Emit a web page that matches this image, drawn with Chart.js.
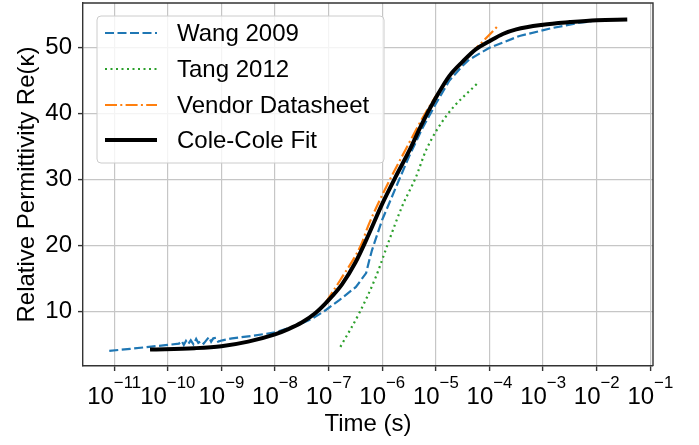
<!DOCTYPE html>
<html>
<head>
<meta charset="utf-8">
<script src="https://cdn.jsdelivr.net/npm/chart.js@4.4.0/dist/chart.umd.min.js"></script>
<style>
html, body { margin: 0; padding: 0; background: #fff; }
canvas { display: block; }
</style>
</head>
<body>
<canvas id="chart" width="699" height="445"></canvas>
<script>
const FONT = '"Liberation Sans", Arial, sans-serif';

// time axis decades (10^n) and permittivity ticks
const xTickExps = [-11, -10, -9, -8, -7, -6, -5, -4, -3, -2, -1];
const yTickValues = [10, 20, 30, 40, 50];

// Wang 2009 (log10 of time, value)
const wangExp = [-11.09, -10.7, -10.35, -10.0, -9.79, -9.74, -9.70, -9.66, -9.62, -9.57, -9.52, -9.47, -9.43,
  -9.38, -9.33, -9.27, -9.23, -9.19, -9.15, -9.10, -9.06, -8.98, -8.8, -8.4, -8.0, -7.6, -7.3, -7.05, -6.8,
  -6.49, -6.3, -6.24, -6.19, -6.0, -5.74, -5.5, -5.25, -5.0, -4.75, -4.5, -4.38, -4.0, -3.44, -2.83, -2.32, -2.1];
const wangVal = [4.0, 4.3, 4.6, 4.9, 5.1, 5.5, 4.9, 5.5, 5.0, 5.6, 5.0, 5.8, 5.2,
  5.5, 5.1, 5.7, 6.1, 5.4, 5.9, 6.0, 5.4, 5.6, 5.9, 6.3, 6.8, 7.8, 8.9, 10.2, 11.7,
  13.7, 15.8, 17.8, 19.3, 23.9, 28.9, 33.5, 37.8, 41.5, 45.0, 47.3, 48.2, 50.0, 51.8, 53.0, 53.8, 54.0];

// Tang 2012
const tangExp = [-6.78, -6.43, -6.12, -5.87, -5.63, -5.37, -5.18, -4.81, -4.19];
const tangVal = [4.6, 9.7, 15.2, 20.8, 25.9, 30.4, 34.5, 39.6, 44.9];

// Vendor datasheet
const vendorExp = [-7.05, -6.77, -6.4, -6.25, -5.93, -5.56, -5.18, -4.69, -4.07, -3.82];
const vendorVal = [11.4, 14.9, 20.0, 23.2, 28.8, 34.6, 40.3, 46.2, 51.4, 53.5];

// Cole-Cole fit
const fitExp = [-10.33, -9.5, -9.0, -8.5, -8.0, -7.75, -7.5, -7.25, -7.0, -6.75, -6.5, -6.25, -6.0, -5.75,
  -5.5, -5.25, -5.0, -4.75, -4.5, -4.25, -4.0, -3.75, -3.5, -3.0, -2.5, -2.0, -1.43];
const fitVal = [4.2, 4.4, 4.7, 5.4, 6.5, 7.3, 8.3, 9.7, 11.7, 14.1, 17.4, 21.7, 26.3, 30.4,
  34.3, 38.6, 42.4, 45.7, 47.9, 49.8, 51.0, 52.1, 52.8, 53.5, 53.9, 54.2, 54.3];

function toPoints(exps, vals) {
  return exps.map((e, i) => ({ x: Math.pow(10, e), y: vals[i] }));
}

const frame = {
  id: 'frame',
  afterDraw(chart) {
    const ctx = chart.ctx;
    const a = chart.chartArea;
    ctx.save();
    // top and right spines
    ctx.strokeStyle = '#333';
    ctx.lineWidth = 1.4;
    ctx.beginPath();
    ctx.moveTo(a.left, a.top);
    ctx.lineTo(a.right, a.top);
    ctx.lineTo(a.right, a.bottom);
    ctx.stroke();

    // x tick labels as 10 with superscript exponent
    const xs = chart.scales.x;
    ctx.fillStyle = '#000';
    ctx.textBaseline = 'alphabetic';
    ctx.textAlign = 'left';
    xs.ticks.forEach(t => {
      const px = xs.getPixelForValue(t.value);
      const exp = '\u2212' + String(-Math.round(Math.log10(t.value)));
      ctx.font = '24px ' + FONT;
      const wBase = ctx.measureText('10').width;
      ctx.font = '16.8px ' + FONT;
      const wExp = ctx.measureText(exp).width;
      const x0 = px - (wBase + wExp) / 2;
      ctx.font = '24px ' + FONT;
      ctx.fillText('10', x0, 404);
      ctx.font = '16.8px ' + FONT;
      ctx.fillText(exp, x0 + wBase, 388);
    });

    // legend
    const bx = 97, by = 16, bw = 287, bh = 147;
    ctx.fillStyle = 'rgba(255,255,255,0.8)';
    ctx.strokeStyle = '#cccccc';
    ctx.lineWidth = 1;
    ctx.beginPath();
    ctx.roundRect(bx, by, bw, bh, 4);
    ctx.fill();
    ctx.stroke();
    const rows = [33, 69, 105, 140];
    chart.data.datasets.forEach((ds, i) => {
      const y = rows[i];
      ctx.strokeStyle = ds.borderColor;
      ctx.lineWidth = ds.borderWidth;
      ctx.setLineDash(ds.borderDash || []);
      ctx.beginPath();
      ctx.moveTo(105, y);
      ctx.lineTo(157, y);
      ctx.stroke();
      ctx.setLineDash([]);
      ctx.fillStyle = '#000';
      ctx.font = '24px ' + FONT;
      ctx.textBaseline = 'middle';
      ctx.fillText(ds.label, 177, y + 1);
    });
    ctx.restore();
  }
};

new Chart(document.getElementById('chart'), {
  type: 'line',
  data: {
    datasets: [
      { label: 'Wang 2009', data: toPoints(wangExp, wangVal), borderColor: '#1f77b4',
        borderWidth: 2.2, borderDash: [9, 3.5], tension: 0, order: 4 },
      { label: 'Tang 2012', data: toPoints(tangExp, tangVal), borderColor: '#2ca02c',
        borderWidth: 2.2, borderDash: [2, 3.5], cubicInterpolationMode: 'monotone', order: 3 },
      { label: 'Vendor Datasheet', data: toPoints(vendorExp, vendorVal), borderColor: '#ff7f0e',
        borderWidth: 2.2, borderDash: [12, 3.3, 2, 3.3], cubicInterpolationMode: 'monotone', order: 2 },
      { label: 'Cole-Cole Fit', data: toPoints(fitExp, fitVal), borderColor: '#000000',
        borderWidth: 4, cubicInterpolationMode: 'monotone', order: 1 }
    ]
  },
  options: {
    responsive: false,
    animation: false,
    devicePixelRatio: 1,
    parsing: false,
    elements: { point: { radius: 0 }, line: { fill: false } },
    layout: { padding: { top: 3, right: 46, left: 0, bottom: 0 } },
    plugins: { legend: { display: false }, tooltip: { enabled: false } },
    scales: {
      x: {
        type: 'logarithmic',
        min: Math.pow(10, -11.58),
        max: Math.pow(10, -0.95),
        afterBuildTicks: s => { s.ticks = xTickExps.map(e => ({ value: Math.pow(10, e) })); },
        afterFit: s => { s.height = 79; s.paddingLeft = 0; s.paddingRight = 0; },
        grid: { color: '#c6c6c6', lineWidth: 1.2, tickLength: 5, tickColor: '#333', tickWidth: 1.4 },
        border: { color: '#333', width: 1.4 },
        ticks: { autoSkip: false, maxRotation: 0, callback: () => '' },
        title: { display: true, text: 'Time (s)', color: '#000',
          font: { family: FONT, size: 24 }, padding: { top: 0, bottom: 6 } }
      },
      y: {
        min: 1.7,
        max: 56.8,
        afterBuildTicks: s => { s.ticks = yTickValues.map(v => ({ value: v })); },
        afterFit: s => { s.width = 83; s.paddingTop = 0; s.paddingBottom = 0; },
        grid: { color: '#c6c6c6', lineWidth: 1.2, tickLength: 5, tickColor: '#333', tickWidth: 1.4 },
        border: { color: '#333', width: 1.4 },
        ticks: { color: '#000', padding: 6, font: { family: FONT, size: 24 } },
        title: { display: true, text: 'Relative Permittivity Re(\u03ba)', color: '#000',
          font: { family: FONT, size: 24 }, padding: { top: 13, bottom: 0 } }
      }
    }
  },
  plugins: [frame]
});
</script>
</body>
</html>
